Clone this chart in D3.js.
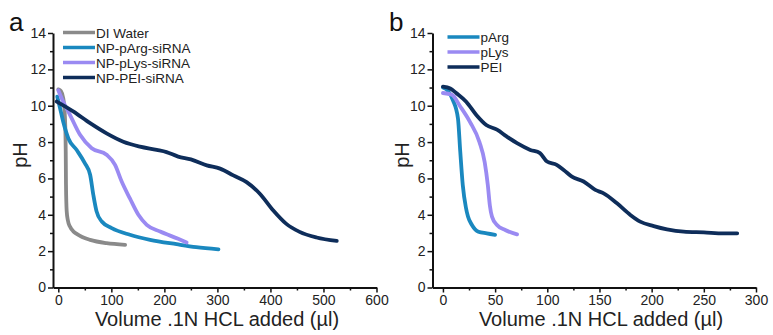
<!DOCTYPE html>
<html>
<head>
<meta charset="utf-8">
<script src="https://cdn.jsdelivr.net/npm/d3@7"></script>
<style>
  body { margin: 0; background: #fff; }
  svg { display: block; font-family: "Liberation Sans", Arial, sans-serif; }
</style>
</head>
<body>
<svg id="chart" width="773" height="335"></svg>
<script>
// tick values
const yTicks = [0, 2, 4, 6, 8, 10, 12, 14];
const xTicksA = [0, 100, 200, 300, 400, 500, 600];
const xTicksB = [0, 50, 100, 150, 200, 250, 300];

// panel a: [volume, pH]
const aWater = [[0,10.9],[5,10.8],[9.4,10.4],[12.6,9.3],[14,7.5],[14.5,5.65],[15.8,4.2],[18,3.7],[22,3.35],[28,3.1],[34.7,2.95],[45,2.78],[60,2.62],[91,2.44],[126,2.35]];
const aArg = [[-2,10.5],[3,9.9],[9.4,9.1],[19,8.2],[34.7,7.56],[50,6.84],[60,6.2],[66,5.1],[72,4.2],[82,3.63],[100.7,3.27],[135,2.9],[173,2.62],[223,2.38],[260,2.22],[302,2.1]];
const aLys = [[0,10.85],[8,10.3],[22,9.5],[41,8.4],[63,7.66],[91,7.3],[107,6.75],[119.5,5.83],[135,4.9],[151,4.0],[166.7,3.45],[192,3.08],[226,2.68],[242,2.48]];
const aPEI = [[-3,10.23],[28,9.69],[60,9.04],[91,8.48],[122.6,8.02],[154,7.75],[185.5,7.57],[204,7.45],[226,7.2],[250,7.05],[280,6.72],[305,6.54],[330,6.17],[355,5.8],[380,5.16],[405,4.25],[430,3.5],[455,3.06],[487,2.75],[525,2.56]];

// panel b
const bArg = [[0,11.0],[5,10.8],[9.6,10.3],[14.4,9.3],[16.6,7.47],[19,5.64],[22,4.4],[24,3.9],[27.8,3.44],[34,3.07],[42,2.98],[50,2.9]];
const bLys = [[0,10.7],[8.6,10.6],[16.6,9.96],[26,9.1],[35,8.0],[40,6.9],[43,5.64],[45,4.5],[47,3.9],[51.8,3.44],[59.7,3.16],[71,2.92]];
const bPEI = [[0,11.05],[7,10.95],[12.7,10.7],[22.3,10.22],[32,9.49],[41.5,8.94],[51.8,8.68],[61,8.31],[71,7.94],[83.7,7.57],[93,7.39],[99.7,6.93],[109,6.75],[115.7,6.47],[123.6,6.1],[134.8,5.83],[146,5.37],[154,5.18],[166.8,4.63],[179.6,3.99],[189,3.62],[202,3.38],[214.7,3.2],[230.7,3.07],[250,3.03],[269,2.98],[282,2.98]];

const namesA = ['DI Water', 'NP-pArg-siRNA', 'NP-pLys-siRNA', 'NP-PEI-siRNA'];
const namesB = ['pArg', 'pLys', 'PEI'];

const colors = { water: '#8a8a8a', arg: '#1a88bf', lys: '#9a8af2', pei: '#0e2d5a' };

const svg = d3.select('#chart');

function drawPanel(opt) {
  const x = d3.scaleLinear().domain(opt.xDomain).range([opt.left, opt.right]);
  const y = d3.scaleLinear().domain([0, 14]).range([287.5, 33]);
  const g = svg.append('g');

  // lines
  const line = d3.line().x(d => x(d[0])).y(d => y(d[1])).curve(d3.curveMonotoneX);
  opt.series.forEach(s => {
    g.append('path')
      .datum(s.data)
      .attr('fill', 'none')
      .attr('stroke', s.color)
      .attr('stroke-width', 3.8)
      .attr('stroke-linejoin', 'round')
      .attr('stroke-linecap', 'round')
      .attr('d', line);
  });

  // x axis
  const step = opt.xTicks[1] - opt.xTicks[0];
  const minorX = opt.xTicks.slice(0, -1).map(v => v + step / 2);
  g.append('g')
    .attr('transform', `translate(0,${y(0)})`)
    .call(d3.axisBottom(x).tickValues(minorX).tickSize(3).tickFormat(''))
    .call(a => a.select('.domain').remove())
    .selectAll('line').attr('stroke', '#111').attr('stroke-width', 1.5);
  const xa = g.append('g')
    .attr('transform', `translate(0,${y(0)})`)
    .call(d3.axisBottom(x).tickValues(opt.xTicks).tickSize(5).tickSizeOuter(0).tickPadding(3));
  xa.select('.domain').attr('stroke', '#111').attr('stroke-width', 2);
  xa.selectAll('line').attr('stroke', '#111').attr('stroke-width', 1.5);
  xa.selectAll('text').attr('font-size', 14).attr('fill', '#222').attr('font-family', '"Liberation Sans", Arial, sans-serif');

  // y axis
  const minorY = yTicks.slice(0, -1).map(v => v + 1);
  g.append('g')
    .attr('transform', `translate(${opt.left},0)`)
    .call(d3.axisLeft(y).tickValues(minorY).tickSize(3).tickFormat(''))
    .call(a => a.select('.domain').remove())
    .selectAll('line').attr('stroke', '#111').attr('stroke-width', 1.5);
  const ya = g.append('g')
    .attr('transform', `translate(${opt.left},0)`)
    .call(d3.axisLeft(y).tickValues(yTicks).tickSize(5).tickSizeOuter(0).tickPadding(2));
  ya.select('.domain').attr('stroke', '#111').attr('stroke-width', 2);
  ya.selectAll('line').attr('stroke', '#111').attr('stroke-width', 1.5);
  ya.selectAll('text').attr('font-size', 14).attr('fill', '#222').attr('font-family', '"Liberation Sans", Arial, sans-serif');

  // titles
  g.append('text')
    .attr('x', opt.titleX).attr('y', 326)
    .attr('text-anchor', 'middle')
    .attr('font-size', 20).attr('fill', '#222')
    .text('Volume .1N HCL added (µl)');
  g.append('text')
    .attr('transform', `translate(${opt.phX},155) rotate(-90)`)
    .attr('text-anchor', 'middle')
    .attr('font-size', 20).attr('fill', '#222')
    .text('pH');
  g.append('text')
    .attr('x', opt.tagX).attr('y', 31)
    .attr('font-size', 26).attr('fill', '#111')
    .text(opt.tag);

  // legend
  opt.series.forEach((s, i) => {
    const ly = opt.legY + i * 15;
    g.append('line')
      .attr('x1', opt.legX).attr('x2', opt.legX + 32)
      .attr('y1', ly).attr('y2', ly)
      .attr('stroke', s.color).attr('stroke-width', 3.5);
    g.append('text')
      .attr('x', opt.legX + 33).attr('y', ly + 5)
      .attr('font-size', 13.5).attr('fill', '#222')
      .text(s.name);
  });
}

drawPanel({
  xDomain: [-10, 600], left: 53, right: 376.5, xTicks: xTicksA,
  titleX: 217, phX: 27, tag: 'a', tagX: 9, legX: 63, legY: 32.5,
  series: [
    { name: namesA[0], data: aWater, color: colors.water },
    { name: namesA[1], data: aArg, color: colors.arg },
    { name: namesA[2], data: aLys, color: colors.lys },
    { name: namesA[3], data: aPEI, color: colors.pei }
  ]
});

drawPanel({
  xDomain: [-10, 300], left: 432.5, right: 756, xTicks: xTicksB,
  titleX: 601, phX: 409, tag: 'b', tagX: 389, legX: 447.5, legY: 37,
  series: [
    { name: namesB[0], data: bArg, color: colors.arg },
    { name: namesB[1], data: bLys, color: colors.lys },
    { name: namesB[2], data: bPEI, color: colors.pei }
  ]
});
</script>
</body>
</html>
